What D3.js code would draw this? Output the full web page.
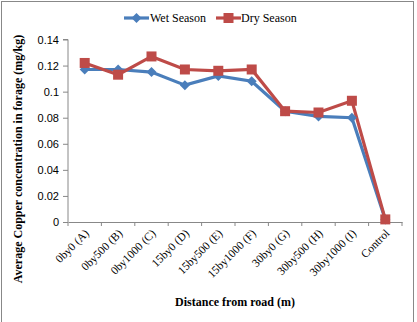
<!DOCTYPE html>
<html><head><meta charset="utf-8">
<script src="https://cdn.jsdelivr.net/npm/d3@7"></script>
<style>body{margin:0;background:#fff}svg{display:block}</style>
</head><body><svg id="c" width="417" height="322"></svg>
<script>
const categories = ["0by0 (A)","0by500 (B)","0by1000 (C)","15by0 (D)","15by500 (E)","15by1000 (F)","30by0 (G)","30by500 (H)","30by1000 (I)","Control"];
const wetSeason = [0.117,0.117,0.115,0.105,0.112,0.108,0.085,0.081,0.080,0.002];
const drySeason = [0.122,0.113,0.127,0.117,0.116,0.117,0.085,0.084,0.093,0.002];
const yTicks = [0,0.02,0.04,0.06,0.08,0.1,0.12,0.14];
const seriesNames = ["Wet Season","Dry Season"];
const colors = ["#4a7ebb","#be4b48"];

(function(){
const svg = d3.select("#c");
svg.append("rect").attr("x",1.5).attr("y",1.5).attr("width",412).attr("height",330)
  .attr("fill","#fff").attr("stroke","#888").attr("stroke-width",1);

const pl=68, pr=402, pt=39.5, pb=222;
const x = d3.scaleBand().domain(categories).range([pl,pr]);
const y = d3.scaleLinear().domain([0,0.14]).range([pb,pt]);

const yAxis = svg.append("g").attr("transform",`translate(${pl},0)`)
  .call(d3.axisLeft(y).tickValues(yTicks).tickSize(5).tickFormat(d=>String(+d.toFixed(2))));
yAxis.select(".domain").attr("stroke","#888").attr("d",`M-5,${pt}H0V${pb}`);
yAxis.selectAll(".tick line").attr("stroke","#888");
yAxis.selectAll("text").attr("font-family","Liberation Sans, Arial, sans-serif").attr("font-size",11).attr("fill","#000").attr("x",-9);

const xAxis = svg.append("g").attr("transform",`translate(0,${pb})`)
  .call(d3.axisBottom(x).tickSize(0).tickFormat(""));
xAxis.select(".domain").attr("stroke","#888");
const tickPos = categories.map(c=>x(c)).concat([pr]);
svg.append("g").selectAll("line").data(tickPos).join("line")
  .attr("x1",d=>d).attr("x2",d=>d).attr("y1",pb).attr("y2",pb+4).attr("stroke","#888");
svg.append("g").selectAll("text").data(categories).join("text")
  .attr("transform",d=>`translate(${x(d)+x.bandwidth()/2+5},${pb+12}) rotate(-45)`)
  .attr("text-anchor","end").attr("font-family","Liberation Serif, Times New Roman, serif")
  .attr("font-size",11.5).attr("fill","#000").text(d=>d);

const line = d3.line().x((d,i)=>x(categories[i])+x.bandwidth()/2).y(d=>y(d));
[wetSeason,drySeason].forEach((s,k)=>{
  svg.append("path").attr("d",line(s)).attr("fill","none").attr("stroke",colors[k]).attr("stroke-width",3.2);
});
svg.append("g").selectAll("path").data(wetSeason).join("path")
  .attr("transform",(d,i)=>`translate(${x(categories[i])+x.bandwidth()/2},${y(d)})`)
  .attr("d","M0,-5L5,0L0,5L-5,0Z").attr("fill",colors[0]);
svg.append("g").selectAll("rect").data(drySeason).join("rect")
  .attr("x",(d,i)=>x(categories[i])+x.bandwidth()/2-5).attr("y",d=>y(d)-5)
  .attr("width",10).attr("height",10).attr("fill",colors[1]);

const legend = [{x:124,tx:150},{x:216,tx:241}];
legend.forEach((l,k)=>{
  const ly=18;
  svg.append("line").attr("x1",l.x).attr("x2",l.x+25).attr("y1",ly).attr("y2",ly).attr("stroke",colors[k]).attr("stroke-width",3.2);
  if(k===0) svg.append("path").attr("transform",`translate(${l.x+12.5},${ly})`).attr("d","M0,-5L5,0L0,5L-5,0Z").attr("fill",colors[0]);
  else svg.append("rect").attr("x",l.x+7.5).attr("y",ly-5).attr("width",10).attr("height",10).attr("fill",colors[1]);
  svg.append("text").attr("x",l.tx).attr("y",ly+4).attr("font-family","Liberation Serif, Times New Roman, serif")
    .attr("font-size",12).attr("fill","#000").text(seriesNames[k]);
});

svg.append("text").attr("x",235).attr("y",306).attr("text-anchor","middle")
  .attr("font-family","Liberation Serif, Times New Roman, serif").attr("font-weight","bold").attr("font-size",12)
  .text("Distance from road (m)");
svg.append("text").attr("transform","translate(22,159) rotate(-90)").attr("text-anchor","middle")
  .attr("font-family","Liberation Serif, Times New Roman, serif").attr("font-weight","bold").attr("font-size",12)
  .text("Average Copper concentration in  forage (mg/kg)");
})();
</script></body></html>
